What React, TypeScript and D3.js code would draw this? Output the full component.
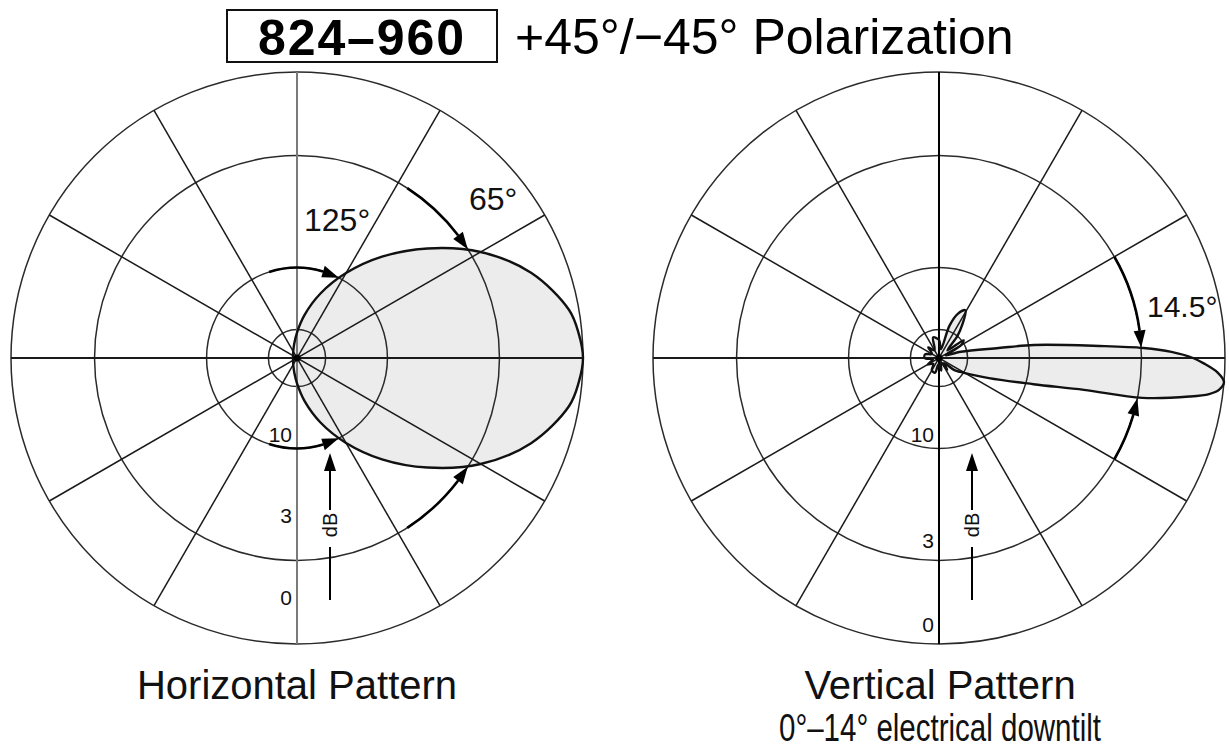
import { useEffect, useRef } from 'react';
import * as d3 from 'd3';

const WIDTH = 1229;
const HEIGHT = 749;
const RADIUS = 286;

// grid rings in dB below peak, labelled ones first
const ringLevels = [0, 3, 10, 20];
const ringLabels = ['0', '3', '10'];
// spokes every 30 deg (each line goes through the centre)
const spokeAngles = [0, 30, 60, 90, 120, 150];

// horizontal pattern: angle (deg, ccw from boresight) -> level (dB down)
const hAngles = [-180, -165, -150, -135, -120, -110, -100, -90, -80, -70, -60, -50, -40, -30, -20, -10, -5, 0, 5, 10, 20, 30, 40, 50, 60, 70, 80, 90, 100, 110, 120, 135, 150, 165];
const hLevels = [37.1, 36.8, 35.9, 34.3, 31.6, 29.0, 25.5, 21.0, 16.3, 12.4, 9.3, 6.7, 4.5, 2.6, 1.2, 0.3, 0.1, 0, 0.1, 0.3, 1.2, 2.6, 4.5, 6.7, 9.3, 12.4, 16.3, 21.0, 25.5, 29.0, 31.6, 34.3, 35.9, 36.8];

// vertical pattern (with downtilt)
const vAngles = [-180, -165, -150, -135, -120, -105, -95, -80, -65, -55, -45, -38, -33, -22, -15.5, -12.4, -11.1, -8.75, -7.6, -6.5, -4.8, -2.9, -1.3, 0, 1.5, 2.8, 4.3, 7.8, 9.5, 16, 22, 30, 36, 42, 50, 55, 61, 67, 72, 78, 90, 106, 120, 135, 150, 165];
const vLevels = [26, 33, 27, 31, 26, 25.5, 33, 27, 35, 26, 32, 23, 21, 14.5, 9.3, 5.7, 2.8, 1.05, 0.42, 0.13, 0, 0.23, 0.63, 1.03, 1.8, 2.9, 5.0, 9.5, 13.5, 22, 32, 21, 19.5, 28, 20, 17, 14.4, 15.5, 18.5, 30, 24, 22.5, 30, 25.5, 31, 26];

// beamwidth arrows: ring level, arc start, arrow tip (deg)
const hArrowLevels = [10, 10, 3, 3];
const hArrowFrom = [108, -108, 57, -57];
const hArrowTo = [62.5, -62.5, 32.5, -32.5];
const vArrowLevels = [3, 3];
const vArrowFrom = [30, -30];
const vArrowTo = [3, -11.5];

const FONT = "'Liberation Sans', Arial, Helvetica, sans-serif";

const rad = (deg: number) => (deg * Math.PI) / 180;
const amp = d3.scaleLinear().domain([0, 1]).range([0, RADIUS]);
const radiusOf = (db: number) => amp(Math.pow(10, -db / 20));
const pt = (r: number, deg: number): [number, number] => [r * Math.cos(rad(deg)), -r * Math.sin(rad(deg))];

interface PolarOpts {
  cx: number;
  cy: number;
  angles: number[];
  levels: number[];
  arrowLevels: number[];
  arrowFrom: number[];
  arrowTo: number[];
  labelY: number[];
  vAxisColor: string;
}

const drawPolar = (svg: d3.Selection<SVGSVGElement, unknown, null, undefined>, o: PolarOpts) => {
  const g = svg.append('g').attr('transform', `translate(${o.cx},${o.cy})`);

  const pts = o.angles.map((a, i) => [rad(90 - a), radiusOf(o.levels[i])] as [number, number]);
  const line = d3.lineRadial<[number, number]>()
    .angle(d => d[0])
    .radius(d => d[1])
    .curve(d3.curveCatmullRomClosed.alpha(0.5));

  g.append('path').attr('d', line(pts)).attr('fill', '#ececec').attr('stroke', 'none');

  g.selectAll('.ring')
    .data(ringLevels)
    .enter()
    .append('circle')
    .attr('class', 'ring')
    .attr('r', d => radiusOf(d))
    .style('fill', 'none')
    .style('stroke', '#2a2a2a')
    .style('stroke-width', '1.5px');

  g.selectAll('.spoke')
    .data(spokeAngles)
    .enter()
    .append('line')
    .attr('class', 'spoke')
    .attr('x1', d => pt(RADIUS, d)[0])
    .attr('y1', d => pt(RADIUS, d)[1])
    .attr('x2', d => pt(RADIUS, d + 180)[0])
    .attr('y2', d => pt(RADIUS, d + 180)[1])
    .style('stroke', d => (d === 90 ? o.vAxisColor : '#1a1a1a'))
    .style('stroke-width', d => (d === 0 || d === 90 ? '2px' : '1.5px'));

  g.append('path')
    .attr('d', line(pts))
    .style('fill', 'none')
    .style('stroke', '#111')
    .style('stroke-width', '2.4px')
    .style('stroke-linejoin', 'round');

  g.append('circle').attr('r', 3.5).style('fill', '#000');

  // beamwidth arrows along the rings
  const headLen = 17;
  const halfW = 6;
  o.arrowLevels.forEach((lvl, i) => {
    const r = radiusOf(lvl);
    const from = o.arrowFrom[i];
    const tip = o.arrowTo[i];
    const s = Math.sign(tip - from);
    const base = tip - (s * headLen / r) * 180 / Math.PI;
    const p = d3.path();
    const a0 = -rad(from);
    const a1 = -rad(base);
    p.arc(0, 0, r, a0, a1, a1 < a0);
    g.append('path').attr('d', p.toString()).style('fill', 'none').style('stroke', '#000').style('stroke-width', '2.6px');
    const t = pt(r, tip);
    const b1 = pt(r + halfW, base);
    const b2 = pt(r - halfW, base);
    g.append('path').attr('d', `M${t[0]},${t[1]}L${b1[0]},${b1[1]}L${b2[0]},${b2[1]}Z`).style('fill', '#000');
  });

  // ring labels
  g.selectAll('.rlabel')
    .data(ringLabels)
    .enter()
    .append('text')
    .attr('class', 'rlabel')
    .attr('x', -5)
    .attr('y', (_, i) => o.labelY[i])
    .attr('text-anchor', 'end')
    .style('font-family', FONT)
    .style('font-size', '21px')
    .style('fill', '#111')
    .text(d => d);

  // dB arrow
  const ax = 33;
  g.append('line').attr('x1', ax).attr('x2', ax).attr('y1', 242).attr('y2', 189).style('stroke', '#000').style('stroke-width', '2px');
  g.append('line').attr('x1', ax).attr('x2', ax).attr('y1', 152).attr('y2', 110).style('stroke', '#000').style('stroke-width', '2px');
  g.append('path').attr('d', `M${ax},95L${ax - 6},113L${ax + 6},113Z`).style('fill', '#000');
  g.append('text')
    .attr('transform', `translate(${ax + 7},167) rotate(-90)`)
    .attr('text-anchor', 'middle')
    .style('font-family', FONT)
    .style('font-size', '20px')
    .style('fill', '#111')
    .text('dB');
};

export default function App() {
  const svgRef = useRef<SVGSVGElement>(null);

  useEffect(() => {
    if (!svgRef.current) return;
    const svg = d3.select(svgRef.current);
    svg.selectAll('*').remove();

    svg.append('rect').attr('width', WIDTH).attr('height', HEIGHT).style('fill', '#fff');

    // title
    svg.append('rect')
      .attr('x', 227).attr('y', 10).attr('width', 270).attr('height', 52)
      .style('fill', 'none').style('stroke', '#111').style('stroke-width', '2px');
    svg.append('text')
      .attr('x', 258).attr('y', 55)
      .attr('textLength', 206).attr('lengthAdjust', 'spacing')
      .style('font-family', FONT).style('font-size', '50px').style('font-weight', 'bold')
      .text('824\u2013960');
    svg.append('text')
      .attr('x', 515).attr('y', 54)
      .style('font-family', FONT).style('font-size', '50px')
      .text('+45\u00b0/\u221245\u00b0 Polarization');

    drawPolar(svg, {
      cx: 297, cy: 358,
      angles: hAngles, levels: hLevels,
      arrowLevels: hArrowLevels, arrowFrom: hArrowFrom, arrowTo: hArrowTo,
      labelY: [247, 165, 84],
      vAxisColor: '#7a7a7a',
    });
    drawPolar(svg, {
      cx: 939, cy: 358,
      angles: vAngles, levels: vLevels,
      arrowLevels: vArrowLevels, arrowFrom: vArrowFrom, arrowTo: vArrowTo,
      labelY: [274, 190, 84],
      vAxisColor: '#000',
    });

    // annotations
    const ann = [
      { x: 304, y: 231, t: '125\u00b0', s: 32 },
      { x: 469, y: 210, t: '65\u00b0', s: 32 },
      { x: 1147, y: 317, t: '14.5\u00b0', s: 30 },
    ];
    svg.selectAll('.ann')
      .data(ann)
      .enter()
      .append('text')
      .attr('class', 'ann')
      .attr('x', d => d.x)
      .attr('y', d => d.y)
      .style('font-family', FONT)
      .style('font-size', d => `${d.s}px`)
      .style('fill', '#111')
      .text(d => d.t);

    const captions = [
      { x: 297, y: 699, t: 'Horizontal Pattern', s: 40, w: 0 },
      { x: 940, y: 699, t: 'Vertical Pattern', s: 40, w: 0 },
      { x: 940, y: 741, t: '0\u00b0\u201314\u00b0 electrical downtilt', s: 38, w: 322 },
    ];
    const cap = svg.selectAll('.cap')
      .data(captions)
      .enter()
      .append('text')
      .attr('class', 'cap')
      .attr('x', d => d.x)
      .attr('y', d => d.y)
      .attr('text-anchor', 'middle')
      .style('font-family', FONT)
      .style('font-size', d => `${d.s}px`)
      .style('fill', '#111')
      .text(d => d.t);
    cap.filter(d => d.w > 0)
      .attr('textLength', d => d.w)
      .attr('lengthAdjust', 'spacingAndGlyphs');
  }, []);

  return (
    <svg
      ref={svgRef}
      width={WIDTH}
      height={HEIGHT}
      style={{ position: 'absolute', left: 0, top: 0, display: 'block' }}
    />
  );
}
